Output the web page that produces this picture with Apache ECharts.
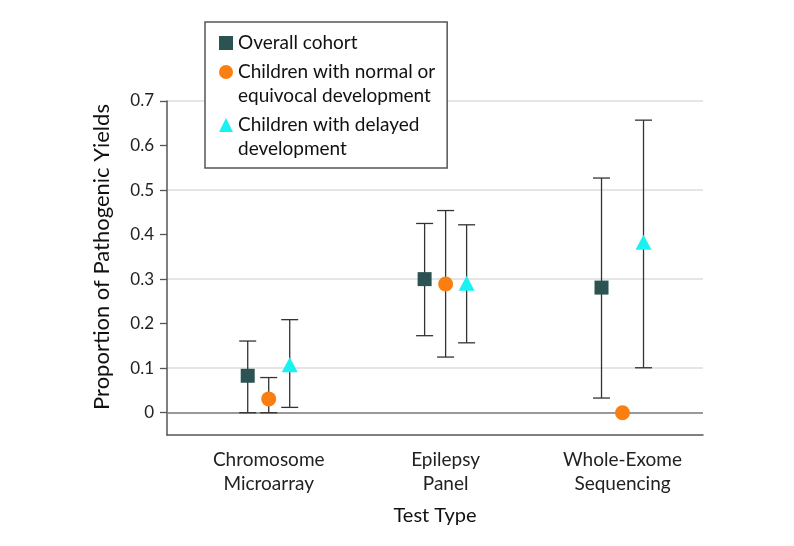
<!DOCTYPE html>
<html>
<head>
<meta charset="utf-8">
<script src="https://cdn.jsdelivr.net/npm/echarts@6/dist/echarts.min.js"></script>
<style>
html,body{margin:0;padding:0;background:#fff;}
#chart{width:794px;height:546px;}
</style>
</head>
<body>
<div id="chart"></div>
<script>
// ---- data ----
var categories = ['Chromosome\nMicroarray', 'Epilepsy\nPanel', 'Whole-Exome\nSequencing'];
var seriesNames = ['Overall cohort', 'Children with normal or\nequivocal development', 'Children with delayed\ndevelopment'];
var overall = [0.083, 0.300, 0.281];
var overallLow = [0, 0.173, 0.033];
var overallHigh = [0.161, 0.425, 0.527];
var normal = [0.031, 0.289, 0];
var normalLow = [0, 0.125, null];
var normalHigh = [0.079, 0.454, null];
var delayed = [0.108, 0.291, 0.383];
var delayedLow = [0.012, 0.157, 0.101];
var delayedHigh = [0.209, 0.422, 0.657];
var yTicks = [0, 0.1, 0.2, 0.3, 0.4, 0.5, 0.6, 0.7];
var xTicks = [1, 2, 3];

// ---- styles ----
var FONT = 'Lato';
var colors = ['#2b5352', '#fb7f10', '#18f2f2'];
var symbols = ['rect', 'circle', 'triangle'];
var sizes = [14, 15, [16, 15]];
var offsets = [-21, 0, 21];
var values = [overall, normal, delayed];
var lows = [overallLow, normalLow, delayedLow];
var highs = [overallHigh, normalHigh, delayedHigh];

function errRender(offset) {
  return function (params, api) {
    var x = api.value(0), lo = api.value(1), hi = api.value(2);
    var pLo = api.coord([x, lo]);
    var pHi = api.coord([x, hi]);
    var cx = pLo[0] + offset;
    var cap = 8.5;
    var st = { stroke: '#333', lineWidth: 1.3 };
    return {
      type: 'group',
      children: [
        { type: 'line', shape: { x1: cx, y1: pLo[1], x2: cx, y2: pHi[1] }, style: st },
        { type: 'line', shape: { x1: cx - cap, y1: pHi[1], x2: cx + cap, y2: pHi[1] }, style: st },
        { type: 'line', shape: { x1: cx - cap, y1: pLo[1], x2: cx + cap, y2: pLo[1] }, style: st }
      ]
    };
  };
}

var series = [];
for (var s = 0; s < 3; s++) {
  var errData = [];
  for (var i = 0; i < categories.length; i++) {
    if (lows[s][i] !== null && highs[s][i] !== null) errData.push([xTicks[i], lows[s][i], highs[s][i]]);
  }
  var errSeries = {
    type: 'custom',
    name: 'err' + s,
    renderItem: errRender(offsets[s]),
    data: errData,
    encode: { x: 0, y: [1, 2] },
    z: 2,
    silent: true
  };
  if (s === 0) {
    errSeries.markLine = {
      silent: true,
      symbol: 'none',
      label: { show: false },
      lineStyle: { color: '#777', width: 1.5, type: 'solid' },
      data: [{ yAxis: 0 }],
      z: 1
    };
  }
  series.push(errSeries);
}
for (var s2 = 0; s2 < 3; s2++) {
  series.push({
    type: 'scatter',
    name: seriesNames[s2],
    symbol: symbols[s2],
    symbolSize: sizes[s2],
    symbolOffset: [offsets[s2], 0],
    itemStyle: { color: colors[s2], opacity: 1 },
    data: values[s2].map(function (v, i) { return [xTicks[i], v]; }),
    z: 5
  });
}

var chart = echarts.init(document.getElementById('chart'), null, { renderer: 'canvas' });
chart.setOption({
  animation: false,
  backgroundColor: '#fff',
  textStyle: { fontFamily: FONT },
  grid: { left: 167, right: 91, top: 101, bottom: 111, containLabel: false, outerBoundsMode: 'none' },
  legend: {
    orient: 'vertical',
    left: 205,
    top: 22,
    padding: [9, 12, 7, 14],
    itemGap: -19,
    itemWidth: 14,
    itemHeight: 14,
    borderColor: '#555',
    borderWidth: 1.5,
    backgroundColor: '#fff',
    selectedMode: false,
    formatter: function (name) { return name.indexOf('\n') >= 0 ? '\n' + name : name; },
    textStyle: { fontFamily: FONT, fontSize: 19, lineHeight: 24, color: '#111' },
    data: [
      { name: seriesNames[0], icon: 'rect' },
      { name: seriesNames[1], icon: 'circle' },
      { name: seriesNames[2], icon: 'triangle' }
    ]
  },
  xAxis: {
    type: 'value',
    min: 0.425,
    max: 3.455,
    name: 'Test Type',
    nameLocation: 'middle',
    nameGap: 71,
    nameTextStyle: { fontFamily: FONT, fontSize: 20, color: '#111' },
    axisLine: { show: true, onZero: false, lineStyle: { color: '#555', width: 1.5 } },
    axisTick: { show: false },
    splitLine: { show: false },
    axisLabel: {
      customValues: xTicks,
      formatter: function (v) { return categories[Math.round(v) - 1] || ''; },
      fontFamily: FONT, fontSize: 19, lineHeight: 24, color: '#222', margin: 13
    }
  },
  yAxis: {
    type: 'value',
    min: -0.05,
    max: 0.7,
    interval: 0.05,
    name: 'Proportion of Pathogenic Yields',
    nameLocation: 'middle',
    nameGap: 54,
    nameTextStyle: { fontFamily: FONT, fontSize: 22, color: '#111', padding: [0, 0, 0, 22] },
    axisLine: { show: true, onZero: false, lineStyle: { color: '#555', width: 1.5 } },
    axisTick: { show: true, length: 7, customValues: yTicks, lineStyle: { color: '#555', width: 1.3 } },
    splitLine: { show: true, lineStyle: { color: ['rgba(0,0,0,0)', '#dcdcdc'], width: 1.5 } },
    axisLabel: {
      customValues: yTicks,
      formatter: function (v) {
        var r = Math.round(v * 100) / 100;
        return (Math.abs(r * 10 - Math.round(r * 10)) < 1e-6) ? String(r) : '';
      },
      fontFamily: FONT, fontSize: 17, color: '#222', margin: 13
    }
  },
  series: series
});
</script>
</body>
</html>
